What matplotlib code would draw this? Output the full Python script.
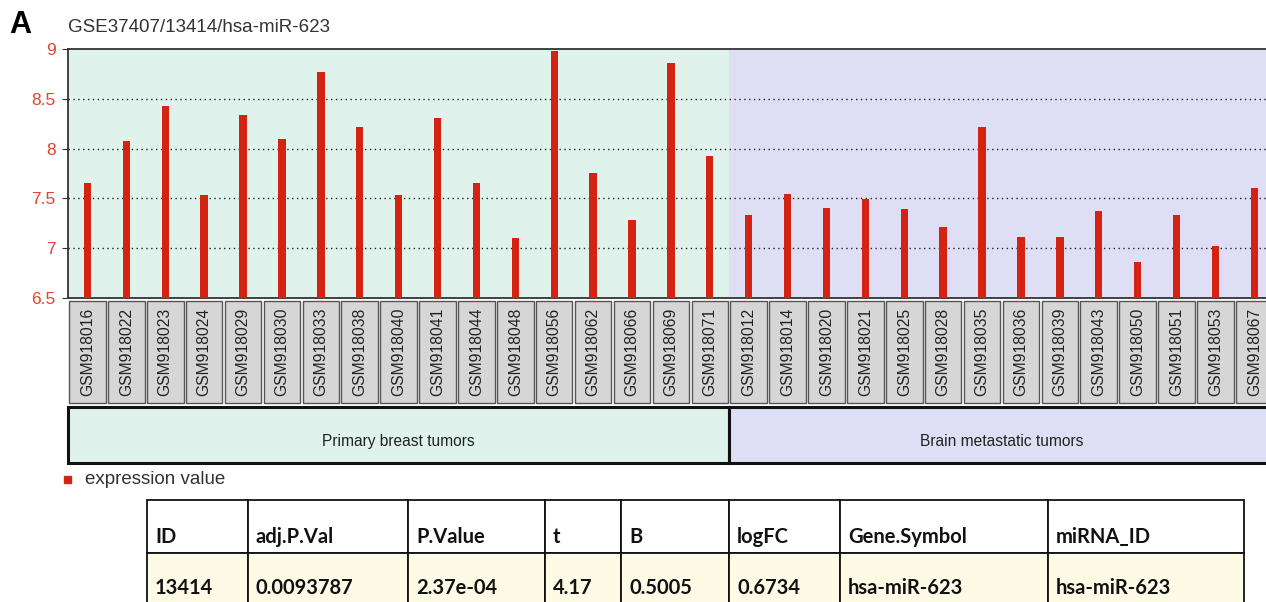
import matplotlib
matplotlib.use('Agg')
import matplotlib.pyplot as plt
from matplotlib.patches import Rectangle

# expression values
primary_samples = ['GSM918016', 'GSM918022', 'GSM918023', 'GSM918024', 'GSM918029', 'GSM918030',
                   'GSM918033', 'GSM918038', 'GSM918040', 'GSM918041', 'GSM918044', 'GSM918048',
                   'GSM918056', 'GSM918062', 'GSM918066', 'GSM918069', 'GSM918071']
primary_values = [7.65, 8.08, 8.43, 7.53, 8.34, 8.10, 8.77, 8.22, 7.53, 8.31, 7.65, 7.10,
                  8.98, 7.75, 7.28, 8.86, 7.93]
brain_samples = ['GSM918012', 'GSM918014', 'GSM918020', 'GSM918021', 'GSM918025', 'GSM918028',
                 'GSM918035', 'GSM918036', 'GSM918039', 'GSM918043', 'GSM918050', 'GSM918051',
                 'GSM918053', 'GSM918067']
brain_values = [7.33, 7.54, 7.40, 7.49, 7.39, 7.21, 8.22, 7.11, 7.11, 7.37, 6.86, 7.33,
                7.02, 7.60]
group_names = ['Primary breast tumors', 'Brain metastatic tumors']
yticks = [6.5, 7, 7.5, 8, 8.5, 9]

table_header = ['ID', 'adj.P.Val', 'P.Value', 't', 'B', 'logFC', 'Gene.Symbol', 'miRNA_ID']
table_row = ['13414', '0.0093787', '2.37e-04', '4.17', '0.5005', '0.6734', 'hsa-miR-623', 'hsa-miR-623']
col_edges = [147, 248, 408, 545, 621, 729, 840, 1048, 1244]

samples = primary_samples + brain_samples
values = primary_values + brain_values
n1 = len(primary_samples)
n = len(samples)
x = list(range(n))

W, H = 1266, 602
fig = plt.figure(figsize=(W / 100, H / 100), dpi=100)


def px_axes(x0, y0, x1, y1):
    return fig.add_axes([x0 / W, 1 - y1 / H, (x1 - x0) / W, (y1 - y0) / H])


green_bg = '#dff3ec'
blue_bg = '#dedff5'
red = '#d42312'
xlim = (-0.5, 30.3)
sans = ['Liberation Sans', 'DejaVu Sans']

# main bar panel
ax = px_axes(68, 49, 1266, 298)
ax.axvspan(-0.5, n1 - 0.5, color=green_bg, zorder=0)
ax.axvspan(n1 - 0.5, n - 0.5, color=blue_bg, zorder=0)
ax.bar(x, [v - 6.5 for v in values], bottom=6.5, width=0.19, color=red, zorder=3)
ax.set_xlim(*xlim)
ax.set_ylim(6.5, 9)
ax.set_yticks(yticks)
ax.set_yticklabels(['6.5', '7', '7.5', '8', '8.5', '9'], color='#e8412c', fontsize=12.5,
                   family=sans)
ax.tick_params(axis='y', length=4, color='#333333', pad=5)
ax.set_xticks(x)
ax.set_xticklabels([])
ax.tick_params(axis='x', length=3, direction='in', color='#333333')
for v in yticks[1:-1]:
    ax.axhline(v, color='#222222', ls=(0, (1, 2.5)), lw=1, zorder=2)
for s in ax.spines.values():
    s.set_color('#333333')
    s.set_linewidth(1.3)
ax.spines['right'].set_visible(False)

# sample label boxes
axl = px_axes(68, 298, 1266, 406)
axl.set_xlim(*xlim)
axl.set_ylim(0, 1)
axl.axis('off')
for i, name in enumerate(samples):
    axl.add_patch(Rectangle((i - 0.47, 0.03), 0.94, 0.94, facecolor='#d6d6d6',
                            edgecolor='#555555', lw=1))
    axl.text(i, 0.5, name, rotation=90, ha='center', va='center', fontsize=11.3,
             color='#222222', family=sans)

# group band
axg = px_axes(68, 407, 1266, 463)
axg.set_xlim(*xlim)
axg.set_ylim(0, 1)
axg.axis('off')
spans = [(-0.5, n1 - 0.5), (n1 - 0.5, n - 0.5)]
for (a, b), name, c in zip(spans, group_names, [green_bg, blue_bg]):
    axg.add_patch(Rectangle((a, 0), b - a, 1, facecolor=c, edgecolor='#111111', lw=2.2,
                            clip_on=False))
    axg.text((a + b) / 2, 0.38, name, ha='center', va='center', fontsize=11.2,
             color='#222222', family=sans)

# overlay in pixel coordinates for title, legend and the table
ov = fig.add_axes([0, 0, 1, 1], zorder=5)
ov.set_xlim(0, W)
ov.set_ylim(H, 0)
ov.axis('off')
ov.patch.set_alpha(0)
ov.text(9, 25, 'A', fontsize=22, fontweight='bold', ha='left', va='center', color='black',
        family=sans)
ov.text(68, 27, 'GSE37407/13414/hsa-miR-623', fontsize=13.5, ha='left', va='center',
        color='#333333', family=sans)
ov.add_patch(Rectangle((64, 476), 7, 7, color=red))
ov.text(85, 480, 'expression value', fontsize=13.5, ha='left', va='center', color='#333333',
        family=sans)

row_y = [500, 553, 612]
row_fill = ['white', '#fdfbe6']
for r, cells in enumerate([table_header, table_row]):
    y0, y1 = row_y[r], row_y[r + 1]
    for c, txt in enumerate(cells):
        x0, x1 = col_edges[c], col_edges[c + 1]
        ov.add_patch(Rectangle((x0, y0), x1 - x0, y1 - y0, facecolor=row_fill[r],
                               edgecolor='#111111', lw=1.3, clip_on=True))
        ov.text(x0 + 8, y0 + 37 if r == 0 else y0 + 35, txt, fontsize=14.5, fontweight='bold',
                ha='left', va='center', color='#111111', family=['Lato', 'DejaVu Sans'])

fig.savefig('out.png', dpi=100)
